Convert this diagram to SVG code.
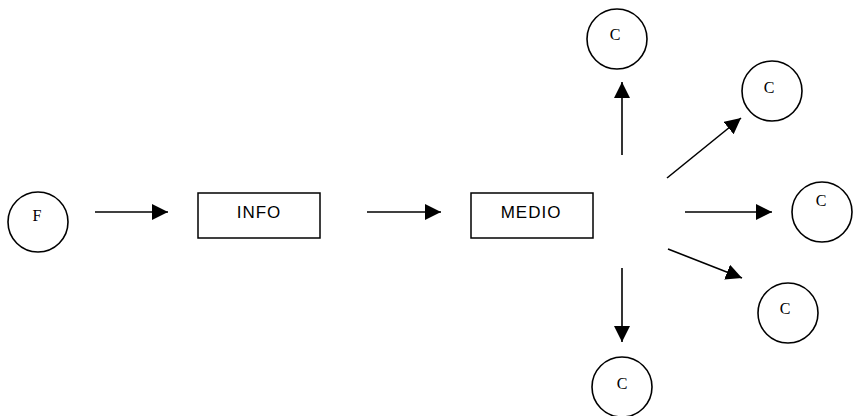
<svg xmlns="http://www.w3.org/2000/svg" width="853" height="416" viewBox="0 0 853 416">
<style>
.circ{fill:#fff;stroke:#000;stroke-width:1.6}
.box{fill:#fff;stroke:#000;stroke-width:1.5}
.lbl{font-family:"Liberation Serif",serif;font-size:16px;fill:#000;text-anchor:middle}
.blbl{font-family:"Liberation Sans",sans-serif;font-size:17px;fill:#000;text-anchor:middle;letter-spacing:1px}
.conn{stroke:#000;stroke-width:1.6;fill:none;marker-end:url(#ah)}
</style>
<defs>
<marker id="ah" markerUnits="userSpaceOnUse" markerWidth="17" markerHeight="17" refX="16" refY="8" orient="auto">
<path d="M0,0 L16,8 L0,16 z" fill="#000"/>
</marker>
</defs>
<g id="connectors">
<line class="conn" x1="95" y1="212" x2="168" y2="212"/>
<line class="conn" x1="367" y1="212" x2="441" y2="212"/>
<line class="conn" x1="622" y1="155" x2="622" y2="82"/>
<line class="conn" x1="667" y1="178" x2="741" y2="118"/>
<line class="conn" x1="685" y1="212" x2="772" y2="212"/>
<line class="conn" x1="668" y1="249" x2="742" y2="278"/>
<line class="conn" x1="622" y1="268" x2="622" y2="342"/>
</g>
<g id="node-F">
<circle class="circ" cx="38" cy="222" r="30"/>
<text class="lbl" x="37" y="221">F</text>
</g>
<g id="node-INFO">
<rect class="box" x="198" y="193" width="122" height="45"/>
<text class="blbl" x="259" y="218">INFO</text>
</g>
<g id="node-MEDIO">
<rect class="box" x="471" y="193" width="122" height="45"/>
<text class="blbl" x="531" y="218">MEDIO</text>
</g>
<g id="node-C1">
<circle class="circ" cx="617" cy="39" r="30"/>
<text class="lbl" x="615" y="40">C</text>
</g>
<g id="node-C2">
<circle class="circ" cx="772" cy="91" r="30"/>
<text class="lbl" x="769" y="93">C</text>
</g>
<g id="node-C3">
<circle class="circ" cx="822" cy="212" r="30"/>
<text class="lbl" x="821" y="206">C</text>
</g>
<g id="node-C4">
<circle class="circ" cx="788" cy="313" r="30"/>
<text class="lbl" x="785" y="314">C</text>
</g>
<g id="node-C5">
<circle class="circ" cx="622" cy="387" r="30"/>
<text class="lbl" x="622" y="389">C</text>
</g>
</svg>
